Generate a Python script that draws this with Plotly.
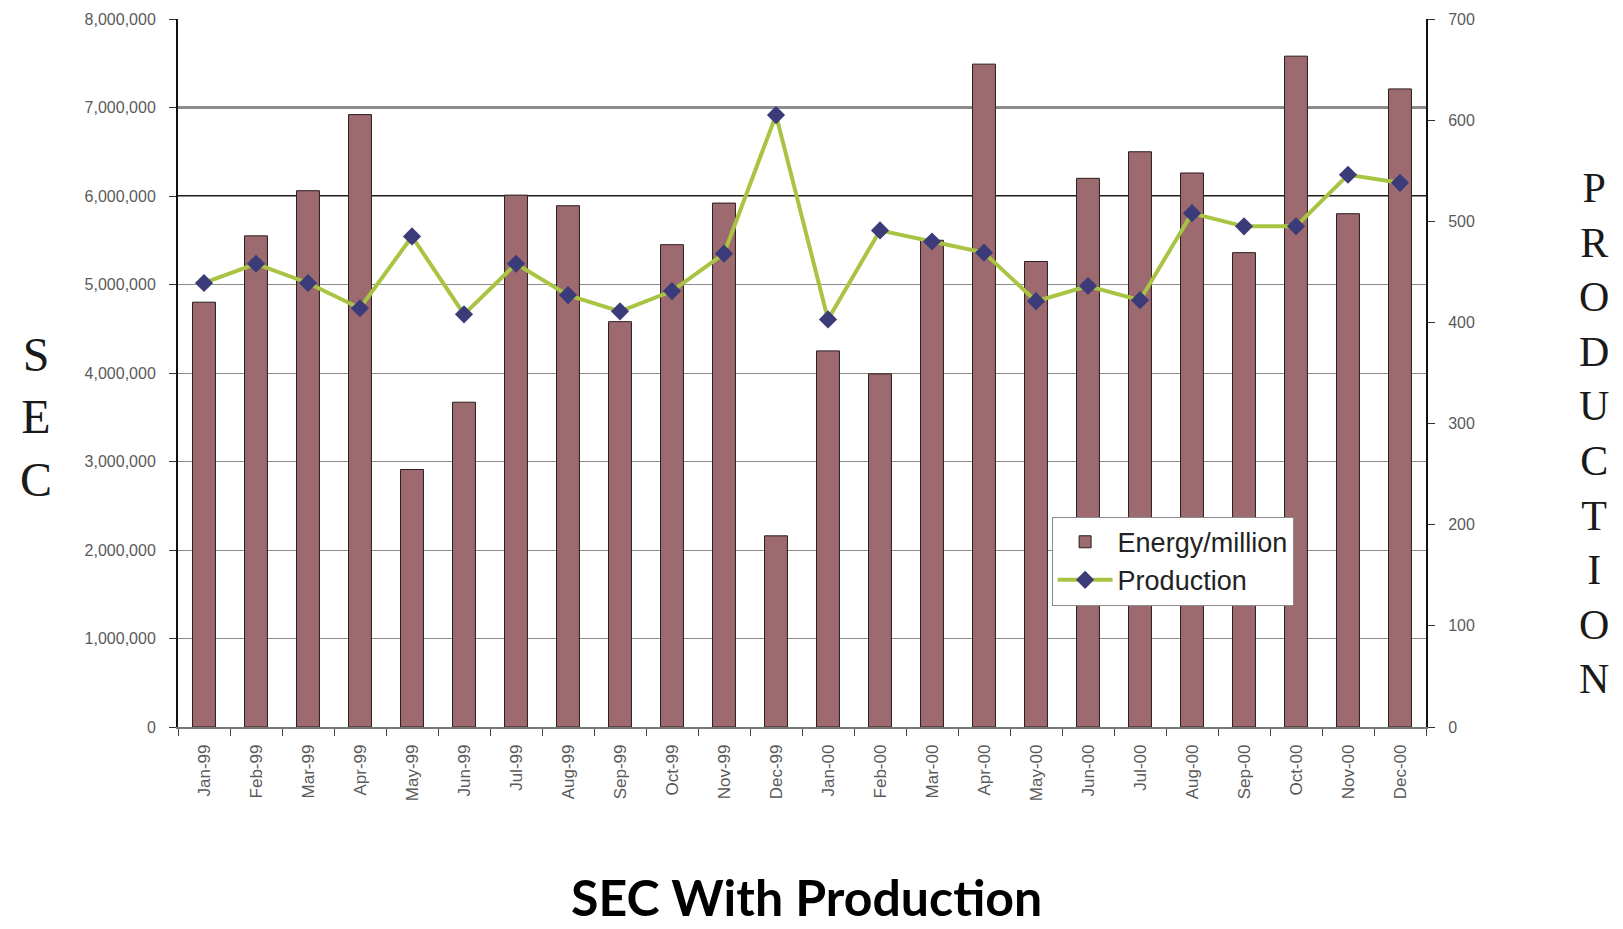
import plotly.graph_objects as go

# Monthly categories, Jan-1999 .. Dec-2000
months = ["Jan-99", "Feb-99", "Mar-99", "Apr-99", "May-99", "Jun-99",
          "Jul-99", "Aug-99", "Sep-99", "Oct-99", "Nov-99", "Dec-99",
          "Jan-00", "Feb-00", "Mar-00", "Apr-00", "May-00", "Jun-00",
          "Jul-00", "Aug-00", "Sep-00", "Oct-00", "Nov-00", "Dec-00"]

# Specific energy consumption (left axis)
energy = [4800000, 5550000, 6060000, 6920000, 2910000, 3670000,
          6010000, 5890000, 4580000, 5450000, 5920000, 2160000,
          4250000, 3990000, 5500000, 7490000, 5260000, 6200000,
          6500000, 6260000, 5360000, 7580000, 5800000, 7210000]

# Production (right axis)
production = [439, 458, 439, 414, 485, 408,
              458, 427, 411, 431, 468, 605,
              403, 491, 480, 469, 421, 436,
              422, 508, 495, 495, 546, 538]

left_ticks = list(range(0, 8000001, 1000000))
right_ticks = list(range(0, 701, 100))
emphasised_grid = [6000000, 7000000]

tick_font = dict(family="Liberation Sans, Arial, sans-serif", size=16, color="#5a5a5a")

fig = go.Figure()

fig.add_trace(go.Bar(
    x=months, y=energy, name="Energy/million",
    marker=dict(color="#9c6a6f", line=dict(color="#2b1d1e", width=1)),
    yaxis="y",
))

fig.add_trace(go.Scatter(
    x=months, y=production, name="Production",
    mode="lines+markers",
    line=dict(color="#a9c443", width=4),
    marker=dict(symbol="diamond", size=14, color="#3c3b7a",
                line=dict(color="#3c3b7a", width=0)),
    yaxis="y2",
))

# Darker reference gridlines on the SEC axis
for level in emphasised_grid:
    fig.add_shape(type="line", xref="paper", x0=0, x1=1, yref="y",
                  y0=level, y1=level, layer="between",
                  line=dict(color="#1e1e1e", width=2))

fig.update_layout(
    width=1623, height=929,
    margin=dict(l=178, r=197, t=19, b=202),
    paper_bgcolor="white", plot_bgcolor="white",
    bargap=0.56,
    showlegend=True,
    legend=dict(
        x=0.70, y=0.297, xanchor="left", yanchor="top",
        bgcolor="white", bordercolor="#8a8a8a", borderwidth=1,
        font=dict(family="Liberation Sans, Arial, sans-serif", size=27, color="#222222"),
        traceorder="normal", itemwidth=55,
    ),
    xaxis=dict(
        type="category", range=[-0.5, len(months) - 0.5],
        tickangle=-90, tickfont=dict(tick_font, size=17), ticklabelstandoff=9,
        tickson="boundaries", ticks="outside", ticklen=7,
        tickcolor="#444444", showline=True, linecolor="#777777", linewidth=1.5,
        showgrid=False, zeroline=False,
    ),
    yaxis=dict(
        range=[0, 8000000], tickvals=left_ticks, tickformat=",",
        tickfont=tick_font, ticklabelstandoff=10,
        ticks="outside", ticklen=7, tickcolor="#333333",
        showline=True, linecolor="#111111", linewidth=2,
        showgrid=True, gridcolor="#8c8c8c", gridwidth=1.2, zeroline=False,
    ),
    yaxis2=dict(
        range=[0, 700], tickvals=right_ticks, overlaying="y", side="right",
        tickfont=tick_font, ticklabelstandoff=10,
        ticks="outside", ticklen=7, tickcolor="#333333",
        showline=True, linecolor="#111111", linewidth=2,
        showgrid=False, zeroline=False,
    ),
)

serif = "Liberation Serif, Times New Roman, serif"

fig.add_annotation(
    text="S<br>E<br>C", xref="paper", yref="paper",
    x=-0.114, y=0.438, xanchor="center", yanchor="middle",
    showarrow=False, font=dict(family=serif, size=48, color="#1a1a1a"),
)
fig.add_annotation(
    text="P<br>R<br>O<br>D<br>U<br>C<br>T<br>I<br>O<br>N", xref="paper", yref="paper",
    x=1.135, y=0.414, xanchor="center", yanchor="middle",
    showarrow=False, font=dict(family=serif, size=42, color="#1a1a1a"),
)
fig.add_annotation(
    text="<b>SEC With Production</b>", xref="paper", yref="paper",
    x=0.504, y=-0.2853, xanchor="center", yanchor="bottom",
    showarrow=False, font=dict(family="Lato, sans-serif", size=50, color="#000000"),
)

fig.write_html("out.html")
